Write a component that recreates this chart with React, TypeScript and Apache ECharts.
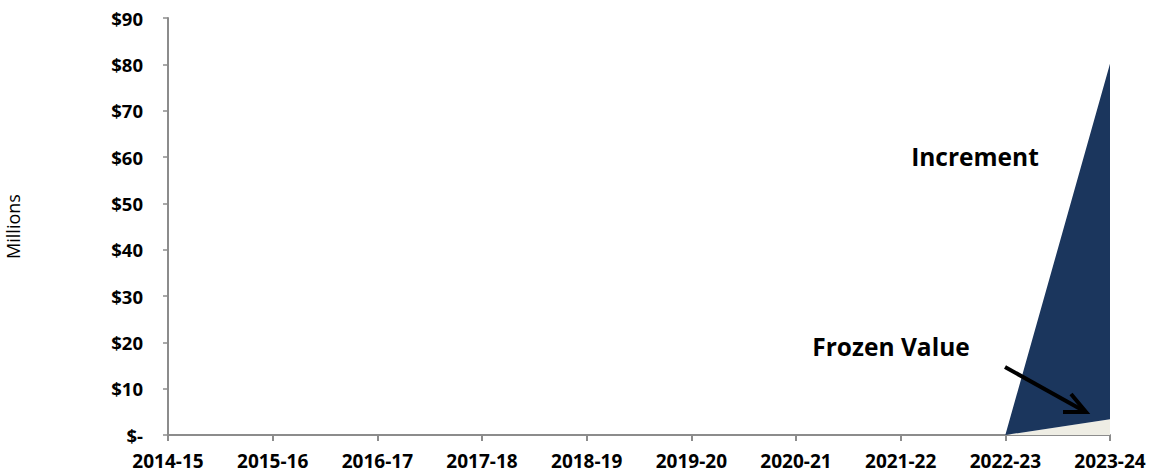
import React, { useEffect, useRef } from "react";
import * as echarts from "echarts";

const categories = ["2014-15", "2015-16", "2016-17", "2017-18", "2018-19", "2019-20", "2020-21", "2021-22", "2022-23", "2023-24"];
const frozenValue = [0, 0, 0, 0, 0, 0, 0, 0, 0, 3.4];
const increment = [0, 0, 0, 0, 0, 0, 0, 0, 0, 76.7];
const yTicks = [0, 10, 20, 30, 40, 50, 60, 70, 80, 90];

const FONT = "'Open Sans', Lato, sans-serif";

export default function App() {
  const ref = useRef<HTMLDivElement>(null);
  useEffect(() => {
    if (!ref.current) return;
    const chart = echarts.init(ref.current, undefined, { renderer: "svg" });
    chart.setOption({
      animation: false,
      backgroundColor: "#ffffff",
      grid: { left: 168, right: 41, top: 18, bottom: 39, containLabel: false, outerBoundsMode: "none" },
      xAxis: {
        type: "category",
        data: categories,
        boundaryGap: false,
        axisLine: { lineStyle: { color: "#8c8c8c", width: 2 } },
        axisTick: { show: true, length: 6, lineStyle: { color: "#8c8c8c", width: 2 } },
        axisLabel: { color: "#000", fontFamily: FONT, fontWeight: "bold", fontSize: 19, margin: 16 },
        splitLine: { show: false },
      },
      yAxis: {
        type: "value",
        min: yTicks[0],
        max: yTicks[yTicks.length - 1],
        interval: 10,
        name: "Millions",
        nameLocation: "middle",
        nameRotate: 90,
        nameGap: 146,
        nameTextStyle: { color: "#000", fontFamily: FONT, fontSize: 18 },
        axisLine: { show: true, lineStyle: { color: "#8c8c8c", width: 2 } },
        axisTick: { show: true, length: 5, lineStyle: { color: "#8c8c8c", width: 1.5 } },
        axisLabel: {
          color: "#000",
          fontFamily: FONT,
          fontWeight: "bold",
          fontSize: 18.5,
          margin: 25,
          formatter: (v: number) => (v === 0 ? "$-" : "$" + v),
        },
        splitLine: { show: false },
      },
      series: [
        {
          name: "Frozen Value",
          type: "line",
          stack: "total",
          data: frozenValue,
          symbol: "none",
          lineStyle: { width: 0 },
          areaStyle: { color: "#EEEDE4", opacity: 1 },
          z: 2,
        },
        {
          name: "Increment",
          type: "line",
          stack: "total",
          data: increment,
          symbol: "none",
          lineStyle: { width: 0 },
          areaStyle: { color: "#1B365D", opacity: 1 },
          z: 2,
        },
      ],
      graphic: [
        {
          type: "text",
          x: 975,
          y: 156,
          style: { text: "Increment", fill: "#000", font: `bold 24.5px ${FONT}`, align: "center", verticalAlign: "middle" },
          z: 10,
        },
        {
          type: "text",
          x: 891,
          y: 346,
          style: { text: "Frozen Value", fill: "#000", font: `bold 24.5px ${FONT}`, align: "center", verticalAlign: "middle" },
          z: 10,
        },
        {
          type: "line",
          shape: { x1: 1005, y1: 367, x2: 1084, y2: 411 },
          style: { stroke: "#000", lineWidth: 4 },
          z: 10,
        },
        {
          type: "polyline",
          shape: { points: [[1071, 394], [1086, 412], [1063, 412]] },
          style: { stroke: "#000", lineWidth: 4, fill: null, lineJoin: "miter" },
          z: 10,
        },
      ],
    });
    return () => chart.dispose();
  }, []);
  return <div ref={ref} style={{ position: "absolute", left: 0, top: 0, width: 1151, height: 474 }} />;
}
